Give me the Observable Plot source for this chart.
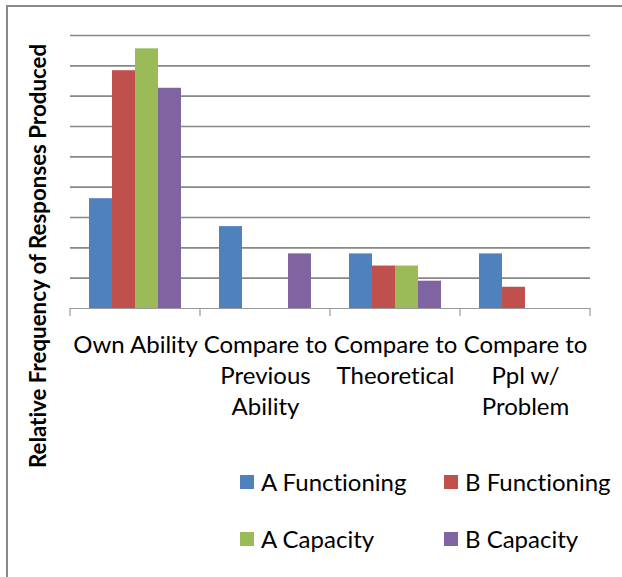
<!DOCTYPE html>
<html>
<head>
<meta charset="utf-8">
<script src="https://cdn.jsdelivr.net/npm/d3@7"></script>
<script src="https://cdn.jsdelivr.net/npm/@observablehq/plot@0.6"></script>
<style>
  html, body { margin: 0; padding: 0; background: #fff; }
  #wrap { position: relative; width: 622px; height: 577px; overflow: hidden; font-family: Lato, "Open Sans", sans-serif; font-variant-ligatures: none; }
  #frame { position: absolute; left: 6px; top: 5px; right: -4px; bottom: -4px; border-left: 2px solid #8a8a8a; border-top: 2px solid #8a8a8a; }
  #chart { position: absolute; left: 0; top: 0; }
  #chart svg text { font-variant-ligatures: none; }
  #ylabel { position: absolute; left: 37px; top: 256px; transform: translate(-50%, -50%) rotate(-90deg); white-space: nowrap; font-weight: bold; font-size: 22.3px; color: #000; }
  .legend-item { position: absolute; display: flex; align-items: center; font-size: 24px; color: #000; white-space: nowrap; }
  .legend-item .sw { width: 14px; height: 14px; margin-right: 7px; }
</style>
</head>
<body>
<div id="wrap">
  <div id="frame"></div>
  <div id="chart"></div>
  <div id="ylabel">Relative Frequency of Responses Produced</div>
</div>
<script>
// Response categories and their wrapped axis labels
const categories = ["Own Ability", "Compare to Previous Ability", "Compare to Theoretical", "Compare to Ppl w/ Problem"];
const categoryLabels = ["Own Ability", "Compare to\nPrevious\nAbility", "Compare to\nTheoretical", "Compare to\nPpl w/\nProblem"];

// Series, in legend order
const series = ["A Functioning", "B Functioning", "A Capacity", "B Capacity"];
const colors = ["#4F81BD", "#C0504D", "#9BBB59", "#8064A2"];

// Relative frequency per series, one value per category
const aFunctioning = [0.181, 0.135, 0.090, 0.090];
const bFunctioning = [0.392, 0, 0.070, 0.035];
const aCapacity    = [0.428, 0, 0.070, 0];
const bCapacity    = [0.363, 0.090, 0.045, 0];

// Horizontal gridline levels
const yGrid = [0.05, 0.10, 0.15, 0.20, 0.25, 0.30, 0.35, 0.40, 0.45];

const valuesBySeries = [aFunctioning, bFunctioning, aCapacity, bCapacity];
const rows = [];
categories.forEach((c, i) => {
  series.forEach((s, j) => rows.push({category: c, series: s, value: valuesBySeries[j][i]}));
});

const chart = Plot.plot({
  width: 622,
  height: 460,
  marginLeft: 70,
  marginRight: 32,
  marginTop: 35,
  marginBottom: 152,
  style: {fontFamily: "Lato, 'Open Sans', sans-serif", fontSize: "24px", color: "#000", background: "transparent"},
  fx: {domain: categories, padding: 0, axis: null},
  x: {domain: series, paddingInner: 0, paddingOuter: 0.75, axis: null},
  y: {domain: [0, 0.45], axis: null},
  color: {domain: series, range: colors},
  marks: [
    Plot.ruleY(yGrid, {stroke: "#878787", strokeWidth: 1.6}),
    Plot.barY(rows, {fx: "category", x: "series", y: "value", fill: "series", inset: 0}),
    Plot.ruleY([0], {stroke: "#9a9a9a", strokeWidth: 1.2}),
    Plot.text(categories, {
      fx: d => d,
      text: (d, i) => categoryLabels[i],
      frameAnchor: "bottom",
      lineAnchor: "top",
      dy: 22,
      lineHeight: 1.3,
      fill: "#000"
    })
  ]
});
document.getElementById("chart").appendChild(chart);

// Category boundary ticks under the baseline, placed with the fx band scale
const fx = chart.scale("fx");
const y = chart.scale("y");
const y0 = y.apply(0);
const edges = categories.map(c => fx.apply(c)).concat([fx.apply(categories[categories.length - 1]) + fx.bandwidth]);
d3.select(chart).append("g")
  .selectAll("line")
  .data(edges)
  .join("line")
  .attr("x1", d => d).attr("x2", d => d)
  .attr("y1", y0).attr("y2", y0 + 8)
  .attr("stroke", "#9a9a9a")
  .attr("stroke-width", 1.2);

// Legend: two rows of two entries
const legendPos = [[240, 483], [444, 483], [240, 540], [444, 540]];
series.forEach((s, i) => {
  const item = document.createElement("div");
  item.className = "legend-item";
  item.style.left = legendPos[i][0] + "px";
  item.style.top = (legendPos[i][1] - 16) + "px";
  item.innerHTML = `<span class="sw" style="background:${colors[i]}"></span><span>${s}</span>`;
  document.getElementById("wrap").appendChild(item);
});
</script>
</body>
</html>
